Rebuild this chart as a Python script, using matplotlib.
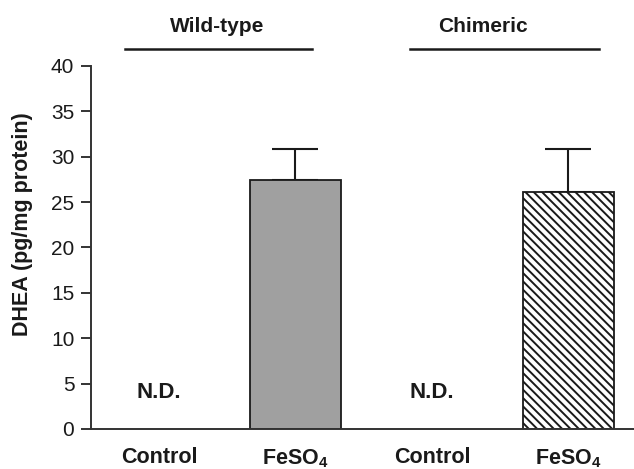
import matplotlib
matplotlib.use("Agg")
import matplotlib.pyplot as plt

plt.rcParams['font.family'] = ['Liberation Sans', 'DejaVu Sans']
plt.rcParams['mathtext.fontset'] = 'custom'
plt.rcParams['mathtext.rm'] = 'Liberation Sans:bold'
plt.rcParams['mathtext.bf'] = 'Liberation Sans:bold'
plt.rcParams['hatch.linewidth'] = 1.4

# data
labels = ['Control', r'FeSO$_4$', 'Control', r'FeSO$_4$']
values = [0, 27.4, 0, 26.1]
errors = [0, 3.5, 0, 4.7]
detected = [False, True, False, True]
colors = ['white', '#a0a0a0', 'white', 'white']
hatches = ['', '', '', '\\\\\\\\']
groups = ['Wild-type', 'Chimeric']
group_spans = [(-0.25, 1.12), (1.84, 3.22)]
group_text_x = [0.425, 2.37]

ink = '#1a1a1a'
pos = list(range(len(values)))

fig = plt.figure(figsize=(6.34, 4.69), dpi=100)
ax = fig.add_axes([0.1435, 0.0853, 0.8565, 0.7740])

for i in pos:
    if detected[i]:
        ax.bar(i, values[i], width=0.667, color=colors[i], hatch=hatches[i],
               edgecolor=ink, linewidth=1.3, zorder=2)
        ax.errorbar(i, values[i], yerr=[[0], [errors[i]]], fmt='none',
                    ecolor=ink, elinewidth=1.5, capsize=16.5, capthick=1.5, zorder=1)
    else:
        ax.text(i, 4.0, 'N.D.', ha='center', va='center', fontsize=16,
                fontweight='bold', color=ink)

ax.set_xlim(-0.498, 3.48)
ax.set_ylim(0, 40)
ax.set_yticks(range(0, 41, 5))
ax.set_xticks(pos)
ax.set_xticklabels(labels, fontsize=15.5, fontweight='bold', color=ink)
ax.tick_params(axis='x', length=0, pad=13)
ax.tick_params(axis='y', length=7, width=1.4, labelsize=15, pad=5, colors='#333333',
               labelcolor=ink)
ax.set_ylabel('DHEA (pg/mg protein)', fontsize=15.5, fontweight='bold', color=ink)
ax.yaxis.set_label_coords(-0.107, 0.565)
for side in ['top', 'right']:
    ax.spines[side].set_visible(False)
for side in ['left', 'bottom']:
    ax.spines[side].set_linewidth(1.4)
    ax.spines[side].set_color('#333333')

for g, (x0, x1), tx in zip(groups, group_spans, group_text_x):
    ax.plot([x0, x1], [41.9, 41.9], color=ink, linewidth=1.8, clip_on=False)
    ax.text(tx, 44.4, g, ha='center', va='center', fontsize=15,
            fontweight='bold', color=ink, clip_on=False)

fig.savefig('out.png', dpi=100)
